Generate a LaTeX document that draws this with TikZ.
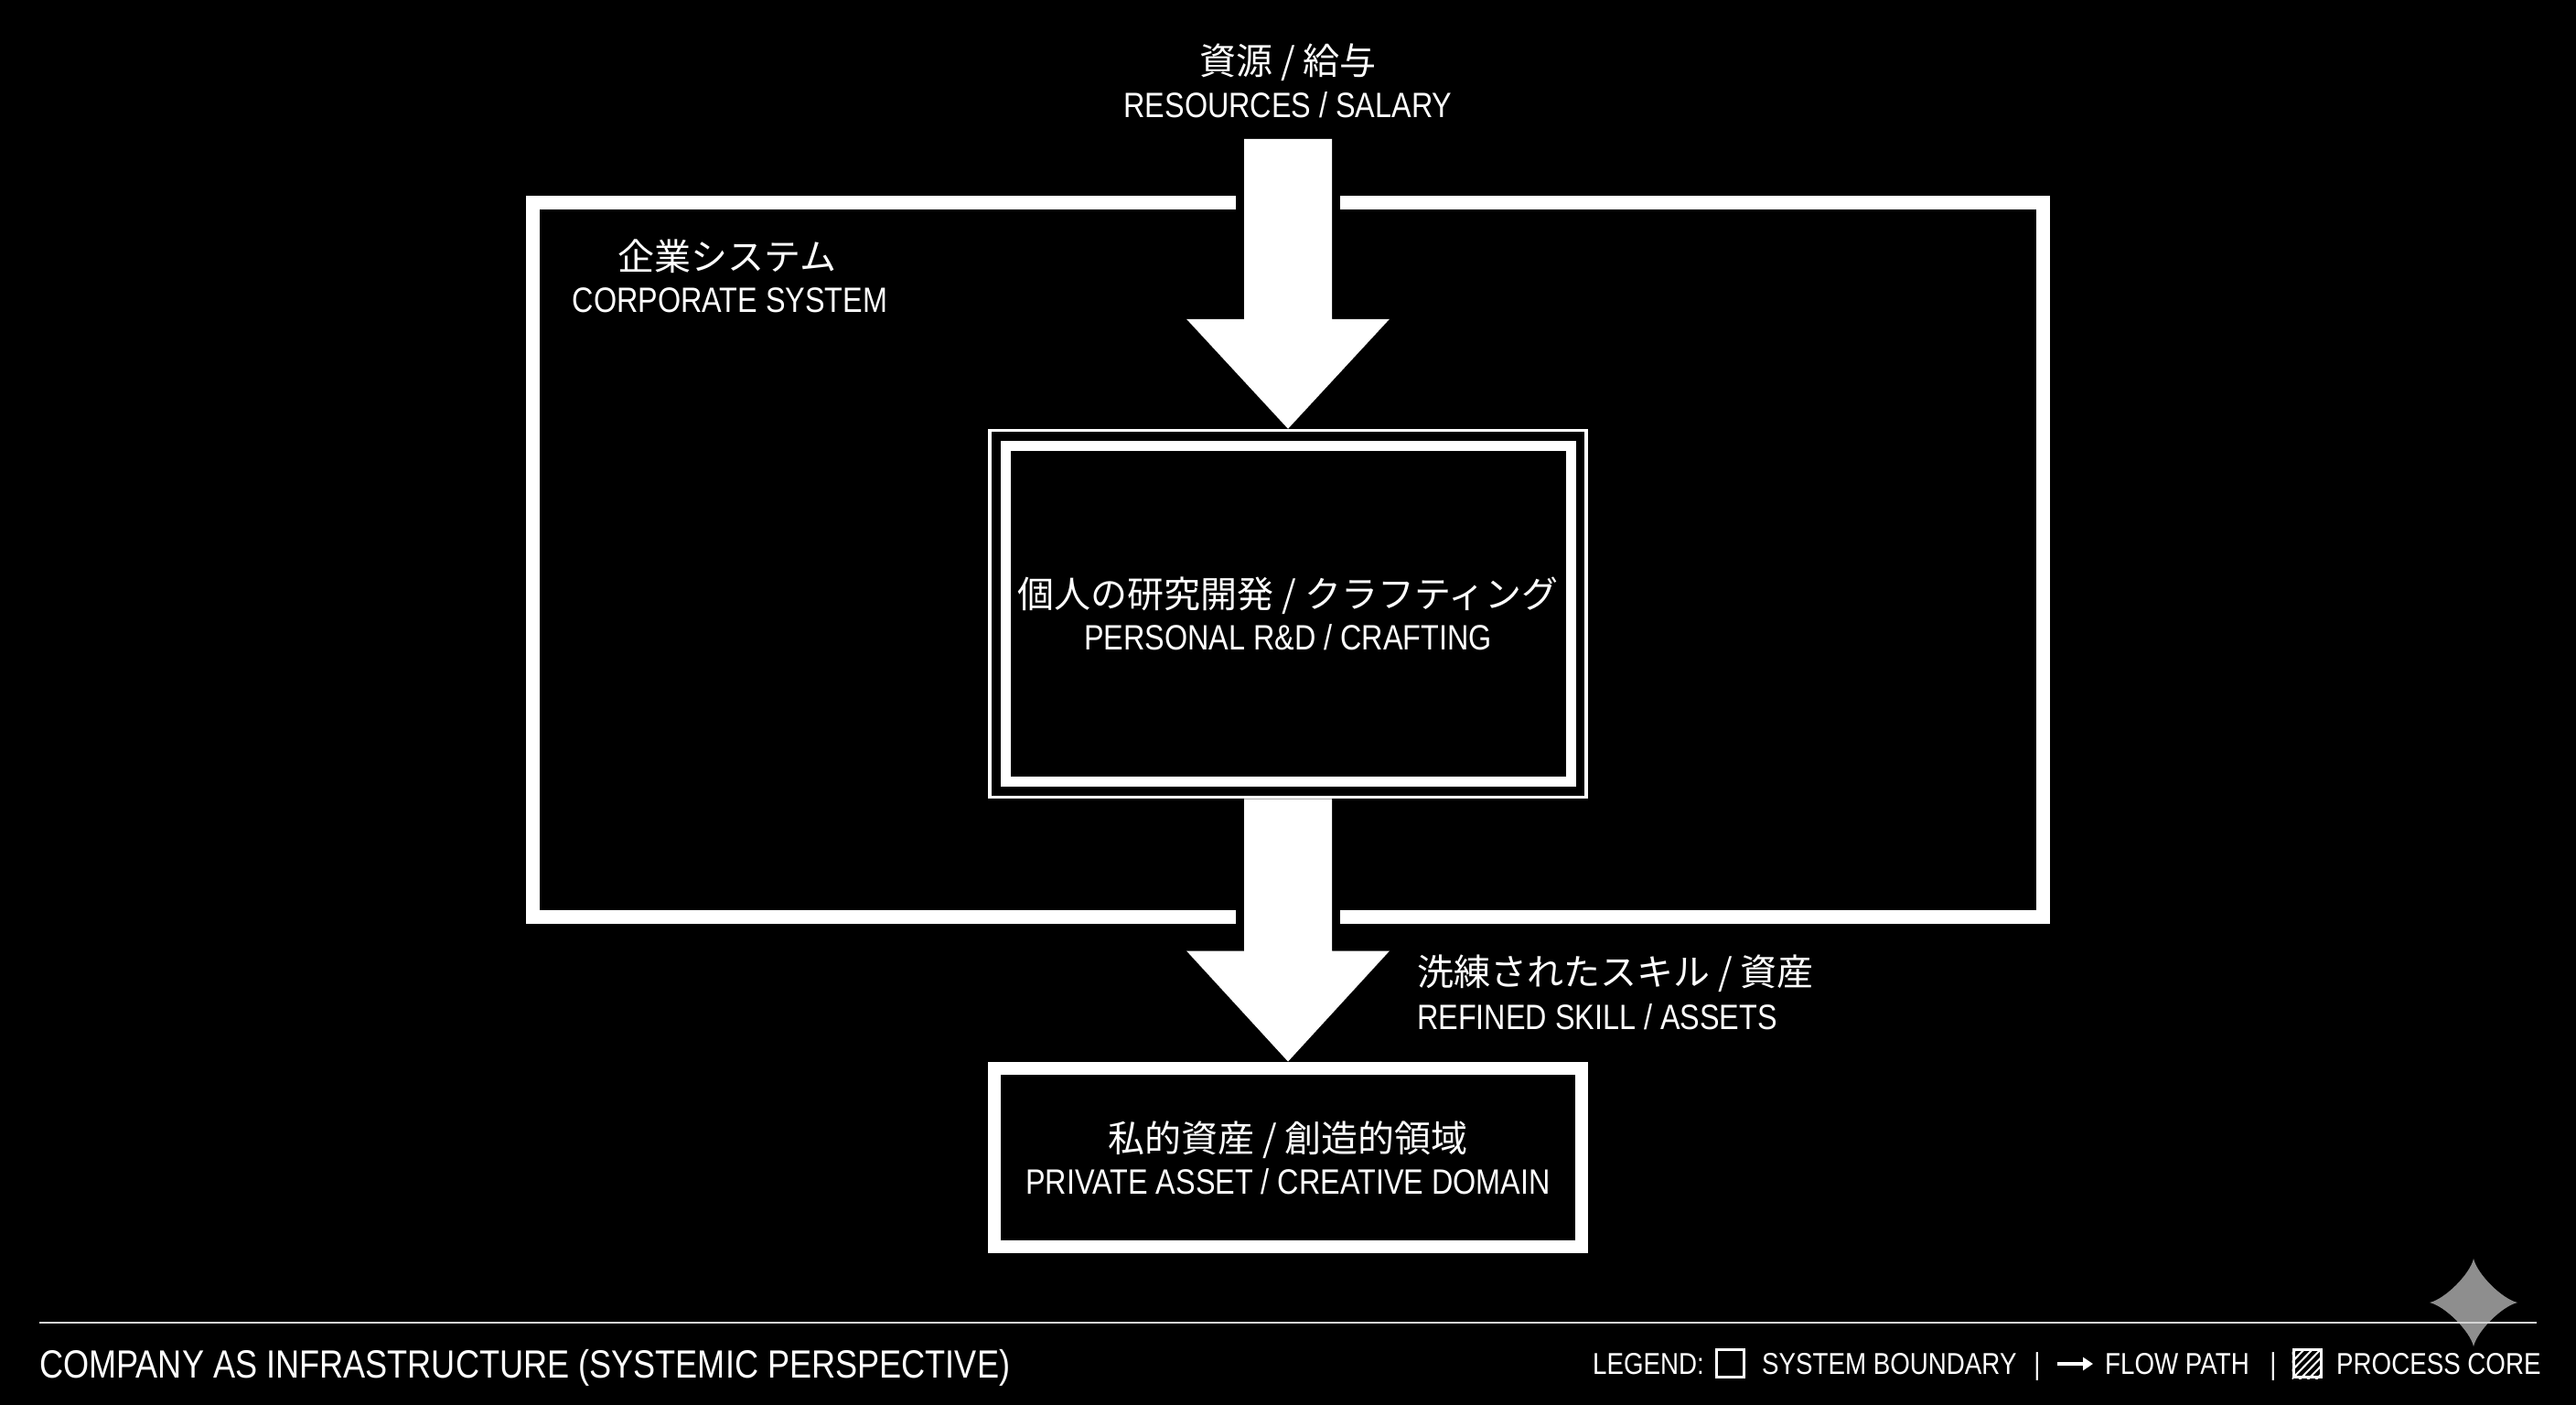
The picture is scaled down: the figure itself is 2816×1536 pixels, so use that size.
\documentclass[tikz,border=0pt]{standalone}
\usepackage{fontspec}
\setmainfont{Liberation Sans}[FakeStretch=0.84]
\newfontfamily\jpfont{Noto Sans CJK JP}
\usetikzlibrary{calc,arrows.meta}
\definecolor{stargray}{HTML}{8E8E8E}
\definecolor{rulegray}{HTML}{D4D4D4}
\tikzset{
  en/.style={text=white, inner sep=0pt, anchor=base, font=\fontsize{38.5}{44}\selectfont},
  jp/.style={text=white, inner sep=0pt, anchor=base, font=\jpfont\fontsize{40}{46}\selectfont},
  legendtext/.style={text=white, inner sep=0pt, anchor=base west, font=\fontsize{33}{38}\selectfont},
  boundary/.style={draw=white, line width=15pt, line cap=butt, line join=miter},
  coreframe/.style={draw=white, line width=3.5pt, rectangle, inner sep=0pt},
  corebox/.style={draw=white, line width=11pt, rectangle, inner sep=0pt},
  assetbox/.style={draw=white, line width=14pt, rectangle, inner sep=0pt},
  flowarrow/.style={fill=white},
  legendbox/.style={draw=white, line width=3pt, rectangle, inner sep=0pt, minimum size=30pt},
}
\begin{document}
\begin{tikzpicture}[x=1pt,y=-1pt]
\fill[black] (0,0) rectangle (2816,1536);
\useasboundingbox (0,0) rectangle (2816,1536);

% corporate system boundary (open where the flow passes)
\draw[boundary] (1351,221.5) -- (582,221.5) -- (582,1002.5) -- (1351,1002.5);
\draw[boundary] (1465,221.5) -- (2233.5,221.5) -- (2233.5,1002.5) -- (1465,1002.5);

% boxes
\node[coreframe, minimum width=652pt, minimum height=401pt] (frame) at (1408,671) {};
\node[corebox, minimum width=618pt, minimum height=367pt] (core) at (1408,671) {};
\node[assetbox, minimum width=642pt, minimum height=195pt] (asset) at (1408,1265) {};

% labels
\node[jp] (srcjp) at (1408,82) {資源 / 給与};
\node[en] (srcen) at (1408,129) {RESOURCES / SALARY};
\coordinate (src) at (1408,152);
\node[jp] (sysjp) at (795,295) {企業システム};
\node[en] (sysen) at (798,341) {CORPORATE SYSTEM};
\node[jp] (corejp) at (1408,664) {個人の研究開発 / クラフティング};
\node[en] (coreen) at (1408,710) {PERSONAL R\&D / CRAFTING};
\node[jp, anchor=base west] (outjp) at (1549,1077) {洗練されたスキル / 資産};
\node[en, anchor=base west] (outen) at (1549,1125) {REFINED SKILL / ASSETS};
\node[jp] (assetjp) at (1408,1259) {私的資産 / 創造的領域};
\node[en] (asseten) at (1408,1305) {PRIVATE ASSET / CREATIVE DOMAIN};

% flow arrows
\fill[flowarrow] let \p1=(src), \p2=(frame.north) in
  (\x1-48pt,\y1) -- (\x1+48pt,\y1) -- (\x1+48pt,\y2+120pt) -- (\x1+111pt,\y2+120pt)
  -- (\x2,\y2) -- (\x1-111pt,\y2+120pt) -- (\x1-48pt,\y2+120pt) -- cycle;
\fill[flowarrow] let \p1=(frame.south), \p2=(asset.north) in
  (\x1-48pt,\y1) -- (\x1+48pt,\y1) -- (\x1+48pt,\y2+121pt) -- (\x1+111pt,\y2+121pt)
  -- (\x2,\y2) -- (\x1-111pt,\y2+121pt) -- (\x1-48pt,\y2+121pt) -- cycle;

% sparkle
\fill[stargray] (2704,1376) .. controls (2708,1393) and (2735,1420) .. (2752,1424)
  .. controls (2735,1428) and (2708,1455) .. (2704,1472)
  .. controls (2700,1455) and (2673,1428) .. (2656,1424)
  .. controls (2673,1420) and (2700,1393) .. (2704,1376) -- cycle;

% footer
\coordinate (ruleL) at (43,1446);
\coordinate (ruleR) at (2773,1446);
\draw[rulegray, line width=2.5pt] (ruleL) -- (ruleR);
\node[en, anchor=base west, font=\fontsize{43}{48}\selectfont] (title) at (43,1506) {COMPANY AS INFRASTRUCTURE (SYSTEMIC PERSPECTIVE)};

% legend
\node[legendtext] (lg) at (1741,1502) {LEGEND:};
\node[legendbox] (lgbox) at (1891,1490.5) {};
\node[legendtext] (lgsys) at (1926,1502) {SYSTEM BOUNDARY};
\node[legendtext, anchor=base] (sep1) at (2227,1502) {|};
\coordinate (lgaL) at (2249,1491);
\coordinate (lgaR) at (2288,1491);
\draw[white, line width=3.5pt, -{Triangle[length=11pt,width=14pt]}] (lgaL) -- (lgaR);
\node[legendtext] (lgflow) at (2301,1502) {FLOW PATH};
\node[legendtext, anchor=base] (sep2) at (2485,1502) {|};
\node[legendbox] (lghatch) at (2522,1490.5) {};
\begin{scope}
  \clip (lghatch.south west) rectangle (lghatch.north east);
  \foreach \k in {-36,-27,...,36} {
    \draw[white, line width=2pt] (2522+\k-20,1511) -- (2522+\k+20,1470);
  }
\end{scope}
\node[legendtext] (lgcore) at (2554,1502) {PROCESS CORE};
\end{tikzpicture}
\end{document}
